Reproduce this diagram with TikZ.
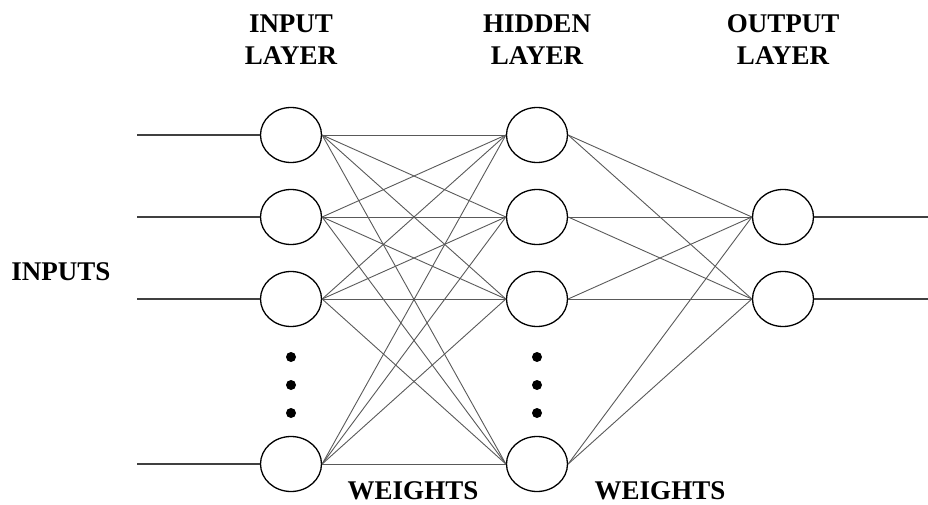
\documentclass[tikz,border=0pt]{standalone}
\usepackage{fontspec}
\setmainfont{Liberation Serif}
\usetikzlibrary{shapes.geometric}

\begin{document}
\begin{tikzpicture}[x=1pt,y=-1pt,
		neuron/.style={draw,ellipse,line width=1.3pt,minimum width=61pt,minimum height=55pt,inner sep=0pt},
		wire/.style={line width=0.9pt,black!65},
		lead/.style={line width=1.1pt,black!75},
		caption/.style={font=\fontsize{27}{32}\selectfont\bfseries,align=center}]
		\useasboundingbox (0,0) rectangle (928,505);
		% 入力層
		\node[neuron] (i1) at (291,135) {};
		\node[neuron] (i2) at (291,217) {};
		\node[neuron] (i3) at (291,299) {};
		\node[neuron] (i4) at (291,464) {};
		% 中間層
		\node[neuron] (h1) at (537,135) {};
		\node[neuron] (h2) at (537,217) {};
		\node[neuron] (h3) at (537,299) {};
		\node[neuron] (h4) at (537,464) {};
		% 出力層
		\node[neuron] (o1) at (783,217) {};
		\node[neuron] (o2) at (783,299) {};
		% 省略の点
		\foreach \x in {291,537}
			\foreach \y in {357,385,413}
				\fill (\x,\y) circle (5pt);
		% 重み
		\foreach \a in {i1,i2,i3,i4}
			\foreach \b in {h1,h2,h3,h4}
				\draw[wire] (\a.east)--(\b.west);
		\foreach \a in {h1,h2,h3,h4}
			\foreach \b in {o1,o2}
				\draw[wire] (\a.east)--(\b.west);
		% 入力線と出力線
		\foreach \n/\y in {1/135,2/217,3/299,4/464}{
			\coordinate (in\n) at (137,\y);
			\draw[lead] (in\n)--(i\n.west);
		}
		\coordinate (out1) at (928,217);
		\coordinate (out2) at (928,299);
		\draw[lead] (o1.east)--(out1);
		\draw[lead] (o2.east)--(out2);
		% 見出し
		\node[caption] (tin) at (291,40) {INPUT\\LAYER};
		\node[caption] (thid) at (537,40) {HIDDEN\\LAYER};
		\node[caption] (tout) at (783,40) {OUTPUT\\LAYER};
		\node[caption] (tinputs) at (61,272) {INPUTS};
		\node[caption] (tw1) at (413,491) {WEIGHTS};
		\node[caption] (tw2) at (660,491) {WEIGHTS};
	\end{tikzpicture}
\end{document}
